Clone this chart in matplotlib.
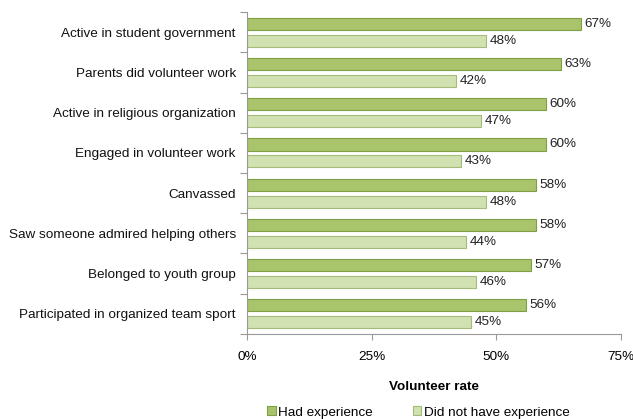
import numpy as np
import matplotlib
matplotlib.use("Agg")
import matplotlib.pyplot as plt
from matplotlib.ticker import FixedLocator, PercentFormatter

plt.rcParams['font.family'] = ['Liberation Sans', 'DejaVu Sans']

categories = [
    "Active in student government",
    "Parents did volunteer work",
    "Active in religious organization",
    "Engaged in volunteer work",
    "Canvassed",
    "Saw someone admired helping others",
    "Belonged to youth group",
    "Participated in organized team sport",
]
had_experience = [67, 63, 60, 60, 58, 58, 57, 56]
no_experience = [48, 42, 47, 43, 48, 44, 46, 45]
x_ticks = [0, 25, 50, 75]

dark_fill, dark_edge = "#A9C46B", "#7F9F45"
light_fill, light_edge = "#D1E1B1", "#A3BC7A"
fs = 9.7

fig = plt.figure(figsize=(6.33, 4.19), dpi=100)
ax = fig.add_axes([0.390, 0.203, 0.591, 0.768])

y = np.arange(len(categories))
h = 0.3
ax.barh(y - 0.21, had_experience, height=h, color=dark_fill, edgecolor=dark_edge,
        linewidth=0.8, label="Had experience")
ax.barh(y + 0.21, no_experience, height=h, color=light_fill, edgecolor=light_edge,
        linewidth=0.8, label="Did not have experience")

# value labels just past the end of each bar
for yi, v in zip(y, had_experience):
    ax.text(v + 0.6, yi - 0.21, f"{v}%", va="center", ha="left", fontsize=fs, color="#222222")
for yi, v in zip(y, no_experience):
    ax.text(v + 0.6, yi + 0.21, f"{v}%", va="center", ha="left", fontsize=fs, color="#222222")

ax.set_xlim(0, 75)
ax.set_ylim(len(categories) - 0.5, -0.5)
ax.set_xticks(x_ticks)
ax.xaxis.set_major_formatter(PercentFormatter(decimals=0))
ax.set_yticks(y)
ax.set_yticklabels(categories, fontsize=fs, color="#111111")
# tick marks sit between the category groups
ax.yaxis.set_minor_locator(FixedLocator(np.arange(-0.5, len(categories) + 0.5, 1)))
ax.tick_params(axis="y", which="major", length=0, pad=8)
ax.tick_params(axis="y", which="minor", length=5, color="#999999", width=0.8)
ax.tick_params(axis="x", length=4, color="#999999", width=0.8, labelsize=fs, pad=8)

for side in ("top", "right"):
    ax.spines[side].set_visible(False)
for side in ("left", "bottom"):
    ax.spines[side].set_color("#999999")
    ax.spines[side].set_linewidth(0.8)

ax.set_xlabel("Volunteer rate", fontsize=fs, fontweight="bold", labelpad=13)

fig.legend(loc="lower center", bbox_to_anchor=(0.661, -0.028), ncol=2, frameon=False,
           fontsize=fs, handlelength=0.65, handleheight=0.65, handletextpad=0.2,
           columnspacing=2.95)

fig.savefig("out.png", dpi=100)
